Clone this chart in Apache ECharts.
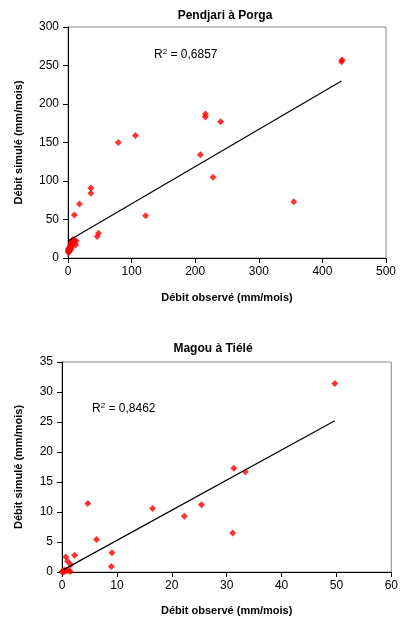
<!doctype html>
<html>
<head>
<meta charset="utf-8">
<title>Débit observé / simulé</title>
<script src="https://cdn.jsdelivr.net/npm/echarts@6/dist/echarts.min.js"></script>
<style>
  html, body { margin: 0; padding: 0; background: #fff; }
  #chart { width: 401px; height: 620px; }
</style>
</head>
<body>
<div id="chart"></div>
<script>
// Pendjari à Porga : [observé, simulé]
var pendjariPts = [
  [430, 255], [431, 257], [216, 187], [216, 183], [240, 177], [106, 159],
  [79, 150], [208, 134], [228, 105], [355, 73], [122, 55], [36, 91],
  [36, 84], [18, 70], [10, 56], [48, 32], [46, 28],
  [0.5, 7], [1, 9], [1.5, 11], [2, 13], [3, 15], [4, 17], [5, 19], [6, 21],
  [7, 22], [8, 24], [10, 23], [13, 22], [3, 10], [5, 13], [6, 16], [8, 18],
  [9, 20], [1, 12], [2, 8], [4, 11], [12, 17], [0.5, 10]
];
var pendjariTrend = [[0, 22], [430, 230]];
var pendjariR2 = '0,6857';
var pendjariXTicks = [0, 500, 100];
var pendjariYTicks = [0, 300, 50];

// Magou à Tiélé : [observé, simulé]
var magouPts = [
  [49.7, 31.4], [31.3, 17.3], [33.4, 16.7], [4.7, 11.4], [16.5, 10.6],
  [25.4, 11.2], [22.3, 9.3], [31.1, 6.5], [6.3, 5.4], [9.1, 3.2], [9.0, 0.9],
  [2.3, 2.8], [0.7, 2.5], [1.0, 1.8], [1.6, 1.2], [1.2, 0.3], [1.5, 0.1],
  [0.05, 0], [0.1, 0.1], [0.2, 0.2], [0.3, 0], [0.5, 0.3], [0.8, 0.2]
];
var magouTrend = [[0.3, 0.4], [49.7, 25.2]];
var magouR2 = '0,8462';
var magouXTicks = [0, 60, 10];
var magouYTicks = [0, 35, 5];

var FONT = '"Liberation Sans", Arial, sans-serif';

function xAx(idx, t) {
  return {
    gridIndex: idx, type: 'value', min: t[0], max: t[1], interval: t[2],
    name: 'Débit observé (mm/mois)', nameLocation: 'middle', nameGap: idx ? 33 : 34,
    nameTextStyle: { fontFamily: FONT, fontSize: 11, fontWeight: 'bold', color: '#000' },
    axisLine: { lineStyle: { color: '#000', width: 1 } },
    axisTick: { length: 5, lineStyle: { color: '#000' } },
    axisLabel: { fontFamily: FONT, fontSize: 12, color: '#000', margin: 8 },
    splitLine: { show: false }
  };
}
function yAx(idx, t) {
  return {
    gridIndex: idx, type: 'value', min: t[0], max: t[1], interval: t[2],
    name: 'Débit simulé (mm/mois)', nameLocation: 'middle', nameRotate: 90,
    nameGap: idx ? 38 : 44,
    nameTextStyle: { fontFamily: FONT, fontSize: 11, fontWeight: 'bold', color: '#000' },
    axisLine: { show: true, lineStyle: { color: '#000', width: 1 } },
    axisTick: { show: true, length: 5, lineStyle: { color: '#000' } },
    axisLabel: { fontFamily: FONT, fontSize: 12, color: '#000', margin: 9 },
    splitLine: { show: false }
  };
}
function scatter(idx, pts) {
  return {
    type: 'scatter', xAxisIndex: idx, yAxisIndex: idx, data: pts,
    symbol: 'diamond', symbolSize: 7, itemStyle: { color: '#ff0000' }, z: 3
  };
}
function trend(idx, pts) {
  return {
    type: 'line', xAxisIndex: idx, yAxisIndex: idx, data: pts,
    showSymbol: false, symbol: 'none', lineStyle: { color: '#000', width: 1.2 }, z: 4
  };
}
function r2Text(x, y, v) {
  return {
    type: 'text', left: x, top: y,
    style: {
      text: 'R{s|2} = ' + v, fill: '#000', font: '12px ' + FONT,
      rich: { s: { fontSize: 8, fontFamily: FONT, verticalAlign: 'top', padding: [0, 0, 6, 0] } }
    }
  };
}

var chart = echarts.init(document.getElementById('chart'));
chart.setOption({
  backgroundColor: '#fff',
  animation: false,
  title: [
    { text: 'Pendjari à Porga', left: 220, top: 5, textAlign: 'center',
      textStyle: { fontFamily: FONT, fontSize: 12, fontWeight: 'bold', color: '#000' } },
    { text: 'Magou à Tiélé', left: 208, top: 338, textAlign: 'center',
      textStyle: { fontFamily: FONT, fontSize: 12, fontWeight: 'bold', color: '#000' } }
  ],
  grid: [
    { left: 68, top: 27, width: 318, height: 231, show: true, borderColor: '#888', borderWidth: 1 },
    { left: 62, top: 362, width: 333, height: 210, show: true, borderColor: '#888', borderWidth: 1 }
  ],
  xAxis: [xAx(0, pendjariXTicks), xAx(1, magouXTicks)],
  yAxis: [yAx(0, pendjariYTicks), yAx(1, magouYTicks)],
  series: [
    scatter(0, pendjariPts), trend(0, pendjariTrend),
    scatter(1, magouPts), trend(1, magouTrend)
  ],
  graphic: [r2Text(154, 48, pendjariR2), r2Text(92, 402, magouR2)]
});
</script>
</body>
</html>
